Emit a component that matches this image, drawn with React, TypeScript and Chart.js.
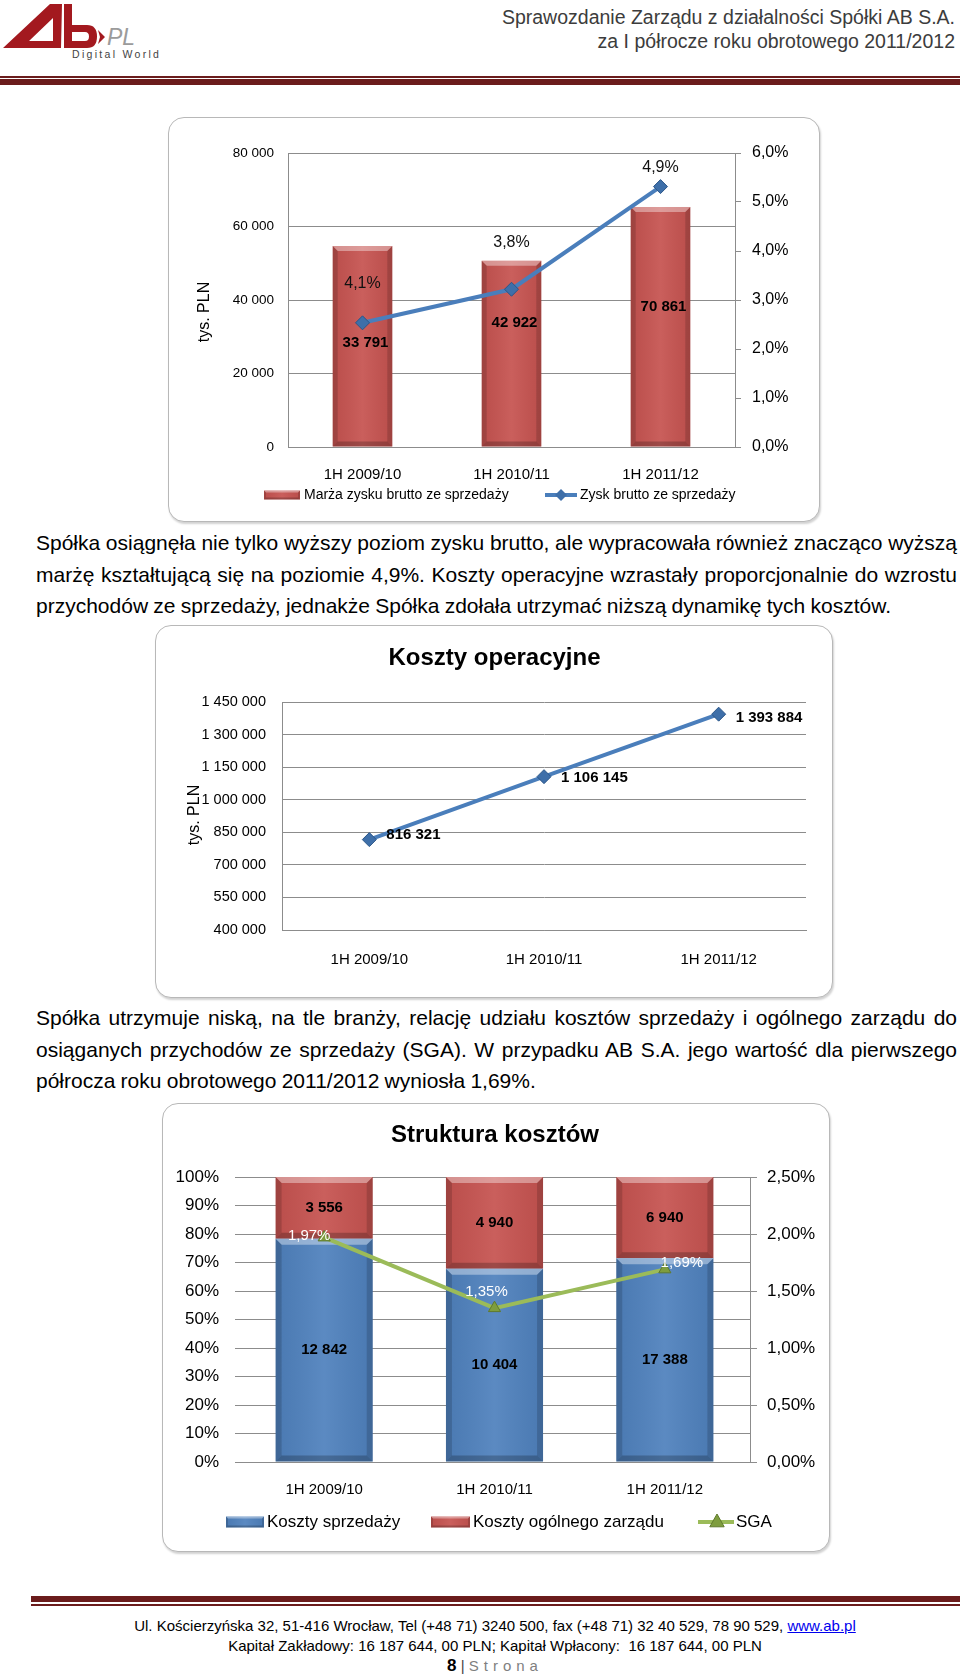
import React, { useEffect, useRef } from 'react';
import { Chart, registerables } from 'chart.js';

Chart.register(...registerables);

const FONT = '"Liberation Sans", Arial, Helvetica, sans-serif';
Chart.defaults.font.family = FONT;
Chart.defaults.color = '#000';

// ---------------- data ----------------
const periods = ['1H 2009/10', '1H 2010/11', '1H 2011/12'];

// Chart 1: gross profit (tys. PLN) and gross margin (%)
const grossProfit = [33791, 42922, 70861];
const grossMargin = [4.1, 3.8, 4.9];
const profitTicks = [0, 20000, 40000, 60000, 80000];
const marginTicks = [0, 1, 2, 3, 4, 5, 6];

// Chart 2: operating costs (tys. PLN)
const operatingCosts = [816321, 1106145, 1393884];
const costTicks = [400000, 550000, 700000, 850000, 1000000, 1150000, 1300000, 1450000];

// Chart 3: cost structure
const sellingCosts = [12842, 10404, 17388];
const adminCosts = [3556, 4940, 6940];
const sgaRatio = [1.97, 1.35, 1.69];
const shareTicks = [0, 10, 20, 30, 40, 50, 60, 70, 80, 90, 100];
const sgaTicks = [0, 0.5, 1, 1.5, 2, 2.5];

// label placement (styling only)
const profitLabelDy = [20, 34, 120];
const marginLabelDy = [37, -18, -39];
const costLabelDy = [-5, 1, 4];
const sgaLabelDx = [-15, -8, 17];
const sgaLabelDy = [-2, -16, -6];

const para1 = [
  'Spółka osiągnęła nie tylko wyższy poziom zysku brutto, ale wypracowała również znacząco wyższą',
  'marżę kształtującą się na poziomie 4,9%. Koszty operacyjne wzrastały proporcjonalnie do wzrostu',
  'przychodów ze sprzedaży, jednakże Spółka zdołała utrzymać niższą dynamikę tych kosztów.',
];
const para2 = [
  'Spółka utrzymuje niską, na tle branży, relację udziału kosztów sprzedaży i ogólnego zarządu do',
  'osiąganych przychodów ze sprzedaży (SGA). W przypadku AB S.A. jego wartość dla pierwszego',
  'półrocza roku obrotowego 2011/2012 wyniosła 1,69%.',
];

// ---------------- styles ----------------
const GRID = '#8C8C8C';
const LINE_BLUE = '#4A7EBB';
const MARKER_BLUE = '#3E6FA9';
const RED = '#C65350';
const BLUE = '#4F81BD';
const GREEN = '#9BBB59';
const MAROON = '#6B1C1C';

const fmtThousands = (v: number) => String(Math.round(v)).replace(/\B(?=(\d{3})+(?!\d))/g, ' ');
const fmtPct = (v: number, d: number) => v.toFixed(d).replace('.', ',') + '%';
const fixedTicks = (vals: number[]) => (scale: any) => {
  scale.ticks = vals.map((v) => ({ value: v }));
};

function drawText(ctx: CanvasRenderingContext2D, s: string, x: number, y: number, font: string, color: string, align: CanvasTextAlign = 'center', rot = 0) {
  ctx.save();
  ctx.translate(x, y);
  if (rot) ctx.rotate(rot);
  ctx.font = font;
  ctx.fillStyle = color;
  ctx.textAlign = align;
  ctx.textBaseline = 'middle';
  ctx.fillText(s, 0, 0);
  ctx.restore();
}

function poly(ctx: CanvasRenderingContext2D, pts: number[][], fill: string) {
  ctx.beginPath();
  ctx.moveTo(pts[0][0], pts[0][1]);
  for (let i = 1; i < pts.length; i++) ctx.lineTo(pts[i][0], pts[i][1]);
  ctx.closePath();
  ctx.fillStyle = fill;
  ctx.fill();
}

function bevel(ctx: CanvasRenderingContext2D, x0: number, y0: number, x1: number, y1: number, b: number) {
  ctx.save();
  const g = ctx.createLinearGradient(x0, 0, x1, 0);
  g.addColorStop(0, 'rgba(0,0,0,0.06)');
  g.addColorStop(0.5, 'rgba(255,255,255,0.07)');
  g.addColorStop(1, 'rgba(0,0,0,0.06)');
  ctx.fillStyle = g;
  ctx.fillRect(x0, y0, x1 - x0, y1 - y0);
  poly(ctx, [[x0, y0], [x1, y0], [x1 - b, y0 + b], [x0 + b, y0 + b]], 'rgba(255,255,255,0.38)');
  poly(ctx, [[x0, y0], [x0 + b, y0 + b], [x0 + b, y1 - b], [x0, y1]], 'rgba(0,0,0,0.15)');
  poly(ctx, [[x1, y0], [x1, y1], [x1 - b, y1 - b], [x1 - b, y0 + b]], 'rgba(0,0,0,0.15)');
  poly(ctx, [[x0, y1], [x0 + b, y1 - b], [x1 - b, y1 - b], [x1, y1]], 'rgba(0,0,0,0.22)');
  ctx.restore();
}

function bevelBars(ctx: CanvasRenderingContext2D, meta: any, b: number) {
  meta.data.forEach((el: any) => {
    const x0 = el.x - el.width / 2;
    const x1 = el.x + el.width / 2;
    const y0 = Math.min(el.y, el.base);
    const y1 = Math.max(el.y, el.base);
    bevel(ctx, x0, y0, x1, y1, b);
  });
}

function swatch(ctx: CanvasRenderingContext2D, x: number, y: number, w: number, h: number, color: string) {
  ctx.save();
  ctx.fillStyle = color;
  ctx.fillRect(x, y, w, h);
  bevel(ctx, x, y, x + w, y + h, 2);
  ctx.restore();
}

function lineSwatch(ctx: CanvasRenderingContext2D, x0: number, x1: number, y: number, color: string) {
  ctx.save();
  ctx.strokeStyle = color;
  ctx.lineWidth = 4;
  ctx.beginPath();
  ctx.moveTo(x0, y);
  ctx.lineTo(x1, y);
  ctx.stroke();
  ctx.restore();
}

function diamond(ctx: CanvasRenderingContext2D, x: number, y: number, r: number, fill: string) {
  poly(ctx, [[x, y - r], [x + r, y], [x, y + r], [x - r, y]], fill);
}

function triangle(ctx: CanvasRenderingContext2D, x: number, y: number, r: number, fill: string, stroke: string) {
  ctx.save();
  ctx.beginPath();
  ctx.moveTo(x, y - r);
  ctx.lineTo(x + r * 0.9, y + r * 0.6);
  ctx.lineTo(x - r * 0.9, y + r * 0.6);
  ctx.closePath();
  ctx.fillStyle = fill;
  ctx.fill();
  ctx.strokeStyle = stroke;
  ctx.lineWidth = 1;
  ctx.stroke();
  ctx.restore();
}

const baseOptions = {
  responsive: false,
  animation: false as const,
  events: [] as any[],
};

// ---------------- chart 1 ----------------
function buildProfitChart(canvas: HTMLCanvasElement) {
  return new Chart(canvas, {
    type: 'bar',
    data: {
      labels: periods,
      datasets: [
        {
          type: 'line',
          label: 'Zysk brutto ze sprzedaży',
          data: grossProfit,
          yAxisID: 'y',
          order: 0,
          borderColor: LINE_BLUE,
          borderWidth: 4,
          tension: 0,
          pointStyle: 'rectRot',
          pointRadius: 7,
          pointBackgroundColor: MARKER_BLUE,
          pointBorderColor: '#2B5688',
          pointBorderWidth: 1,
        } as any,
        {
          type: 'bar',
          label: 'Marża zysku brutto ze sprzedaży',
          data: grossMargin,
          yAxisID: 'y1',
          order: 1,
          backgroundColor: RED,
          barPercentage: 0.4,
          categoryPercentage: 1,
        } as any,
      ],
    },
    options: {
      ...baseOptions,
      layout: { padding: { top: 36, right: 0, bottom: 0, left: 0 } },
      plugins: { legend: { display: false }, tooltip: { enabled: false } },
      scales: {
        x: {
          offset: true,
          grid: { display: false },
          border: { display: true, color: GRID },
          ticks: { font: { size: 15 }, padding: 11, color: '#000' },
          afterFit: (s: any) => { s.height = 75; },
        },
        y: {
          position: 'left',
          min: profitTicks[0],
          max: profitTicks[profitTicks.length - 1],
          afterBuildTicks: fixedTicks(profitTicks),
          ticks: { callback: (v: any) => fmtThousands(Number(v)), font: { size: 13.5 }, padding: 14, color: '#000' },
          grid: { color: GRID, drawTicks: false },
          border: { display: true, color: GRID },
          afterFit: (s: any) => { s.width = 120; },
        },
        y1: {
          position: 'right',
          min: marginTicks[0],
          max: marginTicks[marginTicks.length - 1],
          afterBuildTicks: fixedTicks(marginTicks),
          ticks: { callback: (v: any) => fmtPct(Number(v), 1), font: { size: 16 }, padding: 11, color: '#000' },
          grid: { drawOnChartArea: false, drawTicks: true, tickLength: 6, color: GRID },
          border: { display: true, color: GRID },
          afterFit: (s: any) => { s.width = 85; },
        },
      },
    } as any,
    plugins: [
      {
        id: 'profitDecor',
        afterDatasetDraw(chart: any, args: any) {
          if (args.meta.type === 'bar') bevelBars(chart.ctx, args.meta, 5);
        },
        afterDraw(chart: any) {
          const ctx = chart.ctx;
          const line = chart.getDatasetMeta(0).data;
          const bars = chart.getDatasetMeta(1).data;
          bars.forEach((b: any, i: number) =>
            drawText(ctx, fmtPct(grossMargin[i], 1), b.x, b.y + marginLabelDy[i], `16px ${FONT}`, '#111'));
          line.forEach((p: any, i: number) =>
            drawText(ctx, fmtThousands(grossProfit[i]), p.x + 3, p.y + profitLabelDy[i], `bold 15px ${FONT}`, '#000'));
          drawText(ctx, 'tys. PLN', 37, 195, `16px ${FONT}`, '#000', 'center', -Math.PI / 2);
          const ly = 378;
          swatch(ctx, 96, ly - 4.5, 36, 9, RED);
          drawText(ctx, 'Marża zysku brutto ze sprzedaży', 136, ly, `14px ${FONT}`, '#000', 'left');
          lineSwatch(ctx, 377, 409, ly, LINE_BLUE);
          diamond(ctx, 393, ly, 6, MARKER_BLUE);
          drawText(ctx, 'Zysk brutto ze sprzedaży', 412, ly, `14px ${FONT}`, '#000', 'left');
        },
      },
    ],
  });
}

// ---------------- chart 2 ----------------
function buildCostChart(canvas: HTMLCanvasElement) {
  return new Chart(canvas, {
    type: 'line',
    data: {
      labels: periods,
      datasets: [
        {
          label: 'Koszty operacyjne',
          data: operatingCosts,
          borderColor: LINE_BLUE,
          borderWidth: 4,
          tension: 0,
          pointStyle: 'rectRot',
          pointRadius: 7,
          pointBackgroundColor: MARKER_BLUE,
          pointBorderColor: '#2B5688',
          pointBorderWidth: 1,
        } as any,
      ],
    },
    options: {
      ...baseOptions,
      layout: { padding: { top: 77, right: 27, bottom: 0, left: 0 } },
      plugins: { legend: { display: false }, tooltip: { enabled: false } },
      scales: {
        x: {
          offset: true,
          grid: { display: false },
          border: { display: true, color: GRID },
          ticks: { font: { size: 15 }, padding: 13, color: '#000' },
          afterFit: (s: any) => { s.height = 68; },
        },
        y: {
          min: costTicks[0],
          max: costTicks[costTicks.length - 1],
          afterBuildTicks: fixedTicks(costTicks),
          ticks: { callback: (v: any) => fmtThousands(Number(v)), font: { size: 14.5 }, padding: 16, color: '#000' },
          grid: { color: GRID, drawTicks: false },
          border: { display: true, color: GRID },
          afterFit: (s: any) => { s.width = 127; },
        },
      },
    } as any,
    plugins: [
      {
        id: 'costDecor',
        afterDraw(chart: any) {
          const ctx = chart.ctx;
          drawText(ctx, 'Koszty operacyjne', 339.5, 33, `bold 24px ${FONT}`, '#000');
          drawText(ctx, 'tys. PLN', 40, 190, `16px ${FONT}`, '#000', 'center', -Math.PI / 2);
          chart.getDatasetMeta(0).data.forEach((p: any, i: number) =>
            drawText(ctx, fmtThousands(operatingCosts[i]), p.x + 17, p.y + costLabelDy[i], `bold 15px ${FONT}`, '#000', 'left'));
        },
      },
    ],
  });
}

// ---------------- chart 3 ----------------
function buildStructureChart(canvas: HTMLCanvasElement) {
  const sellShare = sellingCosts.map((v, i) => (v / (v + adminCosts[i])) * 100);
  const adminShare = adminCosts.map((v, i) => (v / (sellingCosts[i] + v)) * 100);
  return new Chart(canvas, {
    type: 'bar',
    data: {
      labels: periods,
      datasets: [
        {
          type: 'line',
          label: 'SGA',
          data: sgaRatio,
          yAxisID: 'y1',
          order: 0,
          borderColor: GREEN,
          borderWidth: 4,
          tension: 0,
          pointStyle: 'triangle',
          pointRadius: 7,
          pointBackgroundColor: '#7E9D3E',
          pointBorderColor: '#5F7A2C',
          pointBorderWidth: 1,
        } as any,
        {
          type: 'bar',
          label: 'Koszty sprzedaży',
          data: sellShare,
          yAxisID: 'y',
          order: 1,
          backgroundColor: BLUE,
          barPercentage: 0.57,
          categoryPercentage: 1,
        } as any,
        {
          type: 'bar',
          label: 'Koszty ogólnego zarządu',
          data: adminShare,
          yAxisID: 'y',
          order: 1,
          backgroundColor: RED,
          barPercentage: 0.57,
          categoryPercentage: 1,
        } as any,
      ],
    },
    options: {
      ...baseOptions,
      layout: { padding: { top: 74, right: 0, bottom: 0, left: 0 } },
      plugins: { legend: { display: false }, tooltip: { enabled: false } },
      scales: {
        x: {
          stacked: true,
          offset: true,
          grid: { display: false },
          border: { display: true, color: GRID },
          ticks: { font: { size: 15 }, padding: 11, color: '#000' },
          afterFit: (s: any) => { s.height = 90; },
        },
        y: {
          stacked: true,
          position: 'left',
          min: shareTicks[0],
          max: shareTicks[shareTicks.length - 1],
          afterBuildTicks: fixedTicks(shareTicks),
          ticks: { callback: (v: any) => `${Number(v)}%`, font: { size: 17 }, padding: 16, color: '#000' },
          grid: { color: GRID, drawTicks: true, tickLength: 4 },
          border: { display: false },
          afterFit: (s: any) => { s.width = 77; },
        },
        y1: {
          position: 'right',
          min: sgaTicks[0],
          max: sgaTicks[sgaTicks.length - 1],
          afterBuildTicks: fixedTicks(sgaTicks),
          ticks: { callback: (v: any) => fmtPct(Number(v), 2), font: { size: 17 }, padding: 10, color: '#000' },
          grid: { drawOnChartArea: false, drawTicks: true, tickLength: 7, color: GRID },
          border: { display: true, color: GRID },
          afterFit: (s: any) => { s.width = 80; },
        },
      },
    } as any,
    plugins: [
      {
        id: 'structDecor',
        afterDatasetDraw(chart: any, args: any) {
          if (args.meta.type === 'bar') bevelBars(chart.ctx, args.meta, 6);
        },
        afterDraw(chart: any) {
          const ctx = chart.ctx;
          drawText(ctx, 'Struktura kosztów', 333, 32, `bold 24px ${FONT}`, '#000');
          const blue = chart.getDatasetMeta(1).data;
          const red = chart.getDatasetMeta(2).data;
          blue.forEach((b: any, i: number) =>
            drawText(ctx, fmtThousands(sellingCosts[i]), b.x, (b.y + b.base) / 2, `bold 15px ${FONT}`, '#000'));
          red.forEach((b: any, i: number) =>
            drawText(ctx, fmtThousands(adminCosts[i]), b.x, (b.y + b.base) / 2, `bold 15px ${FONT}`, '#000'));
          chart.getDatasetMeta(0).data.forEach((p: any, i: number) =>
            drawText(ctx, fmtPct(sgaRatio[i], 2), p.x + sgaLabelDx[i], p.y + sgaLabelDy[i], `15px ${FONT}`, '#fff'));
          const ly = 419;
          swatch(ctx, 64, ly - 5.5, 38, 11, BLUE);
          drawText(ctx, 'Koszty sprzedaży', 105, ly, `17px ${FONT}`, '#000', 'left');
          swatch(ctx, 269, ly - 5.5, 39, 11, RED);
          drawText(ctx, 'Koszty ogólnego zarządu', 311, ly, `17px ${FONT}`, '#000', 'left');
          lineSwatch(ctx, 536, 572, ly, GREEN);
          triangle(ctx, 555, ly, 8, '#7E9D3E', '#5F7A2C');
          drawText(ctx, 'SGA', 574, ly, `17px ${FONT}`, '#000', 'left');
        },
      },
    ],
  });
}

// ---------------- components ----------------
function ChartBox(props: { left: number; top: number; width: number; height: number; build: (c: HTMLCanvasElement) => Chart }) {
  const { left, top, width, height, build } = props;
  const ref = useRef<HTMLCanvasElement>(null);
  useEffect(() => {
    const chart = build(ref.current as HTMLCanvasElement);
    return () => chart.destroy();
  }, []);
  return (
    <>
      <div
        style={{
          position: 'absolute', left, top, width, height, boxSizing: 'border-box',
          border: '1px solid #b8b8b8', borderRadius: 16, background: '#fff',
          boxShadow: '1px 2px 2px rgba(0,0,0,0.18)',
        }}
      />
      <canvas ref={ref} width={width} height={height} style={{ position: 'absolute', left, top, width, height }} />
    </>
  );
}

function Para(props: { top: number; lines: string[] }) {
  const { top, lines } = props;
  return (
    <div style={{ position: 'absolute', left: 36, width: 921, top, fontSize: 21, lineHeight: '31.5px', color: '#000', wordSpacing: -0.6 }}>
      {lines.map((l, i) => {
        const last = i === lines.length - 1;
        return (
          <div key={i} style={{ whiteSpace: 'nowrap', textAlign: last ? 'left' : 'justify', textAlignLast: last ? 'left' : 'justify' } as any}>
            {l}
          </div>
        );
      })}
    </div>
  );
}

function Logo() {
  return (
    <svg width={175} height={64} style={{ position: 'absolute', left: 0, top: 0 }}>
      <path fillRule="evenodd" fill="#A3191F" d="M3 48 L50 4 L62 4 L61 48 Z M29 41 L53 18 L53 41 Z" />
      <path fillRule="evenodd" fill="#A3191F" d="M64 4 H72 V25 H87 Q97 25 97 36.5 Q97 48 87 48 H64 Z M72 32 H85 Q89 32 89 36.5 Q89 41 85 41 H72 Z" />
      <path fill="#A3191F" d="M98 30 L105 37 L98 44 L100 37 Z" />
      <text x={107} y={45} fontSize={23} fontStyle="italic" fill="#9B9B9B" fontFamily={FONT}>PL</text>
      <text x={72} y={58} fontSize={10.5} fill="#444" letterSpacing={2.3} fontFamily={FONT}>Digital World</text>
    </svg>
  );
}

export default function App() {
  return (
    <div style={{ position: 'absolute', left: 0, top: 0, width: 960, height: 1677, background: '#fff', overflow: 'hidden', fontFamily: FONT, color: '#000' }}>
      <Logo />
      <div style={{ position: 'absolute', right: 5, top: 5, textAlign: 'right', fontSize: 19.5, lineHeight: '24px', color: '#3c3c3c', whiteSpace: 'nowrap' }}>
        <div>Sprawozdanie Zarządu z działalności Spółki AB S.A.</div>
        <div>za I półrocze roku obrotowego 2011/2012</div>
      </div>
      <div style={{ position: 'absolute', left: 0, top: 76, width: 960, height: 1.5, background: MAROON }} />
      <div style={{ position: 'absolute', left: 0, top: 79, width: 960, height: 6, background: MAROON }} />

      <ChartBox left={168} top={117} width={652} height={405} build={buildProfitChart} />
      <Para top={527} lines={para1} />
      <ChartBox left={155} top={625} width={678} height={373} build={buildCostChart} />
      <Para top={1002} lines={para2} />
      <ChartBox left={162} top={1103} width={668} height={449} build={buildStructureChart} />

      <div style={{ position: 'absolute', left: 31, top: 1596, width: 929, height: 6, background: MAROON }} />
      <div style={{ position: 'absolute', left: 31, top: 1604, width: 929, height: 1.5, background: MAROON }} />
      <div style={{ position: 'absolute', left: 30, width: 930, top: 1616, textAlign: 'center', fontSize: 15, lineHeight: '20px', color: '#000', whiteSpace: 'nowrap' }}>
        <div>
          Ul. Kościerzyńska 32, 51-416 Wrocław, Tel (+48 71) 3240 500, fax (+48 71) 32 40 529, 78 90 529,{' '}
          <span style={{ color: '#0000EE', textDecoration: 'underline' }}>www.ab.pl</span>
        </div>
        <div>Kapitał Zakładowy: 16 187 644, 00 PLN; Kapitał Wpłacony:{'\u00a0 '}16 187 644, 00 PLN</div>
        <div>
          <b style={{ fontSize: 17 }}>8</b> <span style={{ color: '#444' }}>|</span>{' '}
          <span style={{ color: '#7f7f7f', letterSpacing: 5 }}>Strona</span>
        </div>
      </div>
    </div>
  );
}
